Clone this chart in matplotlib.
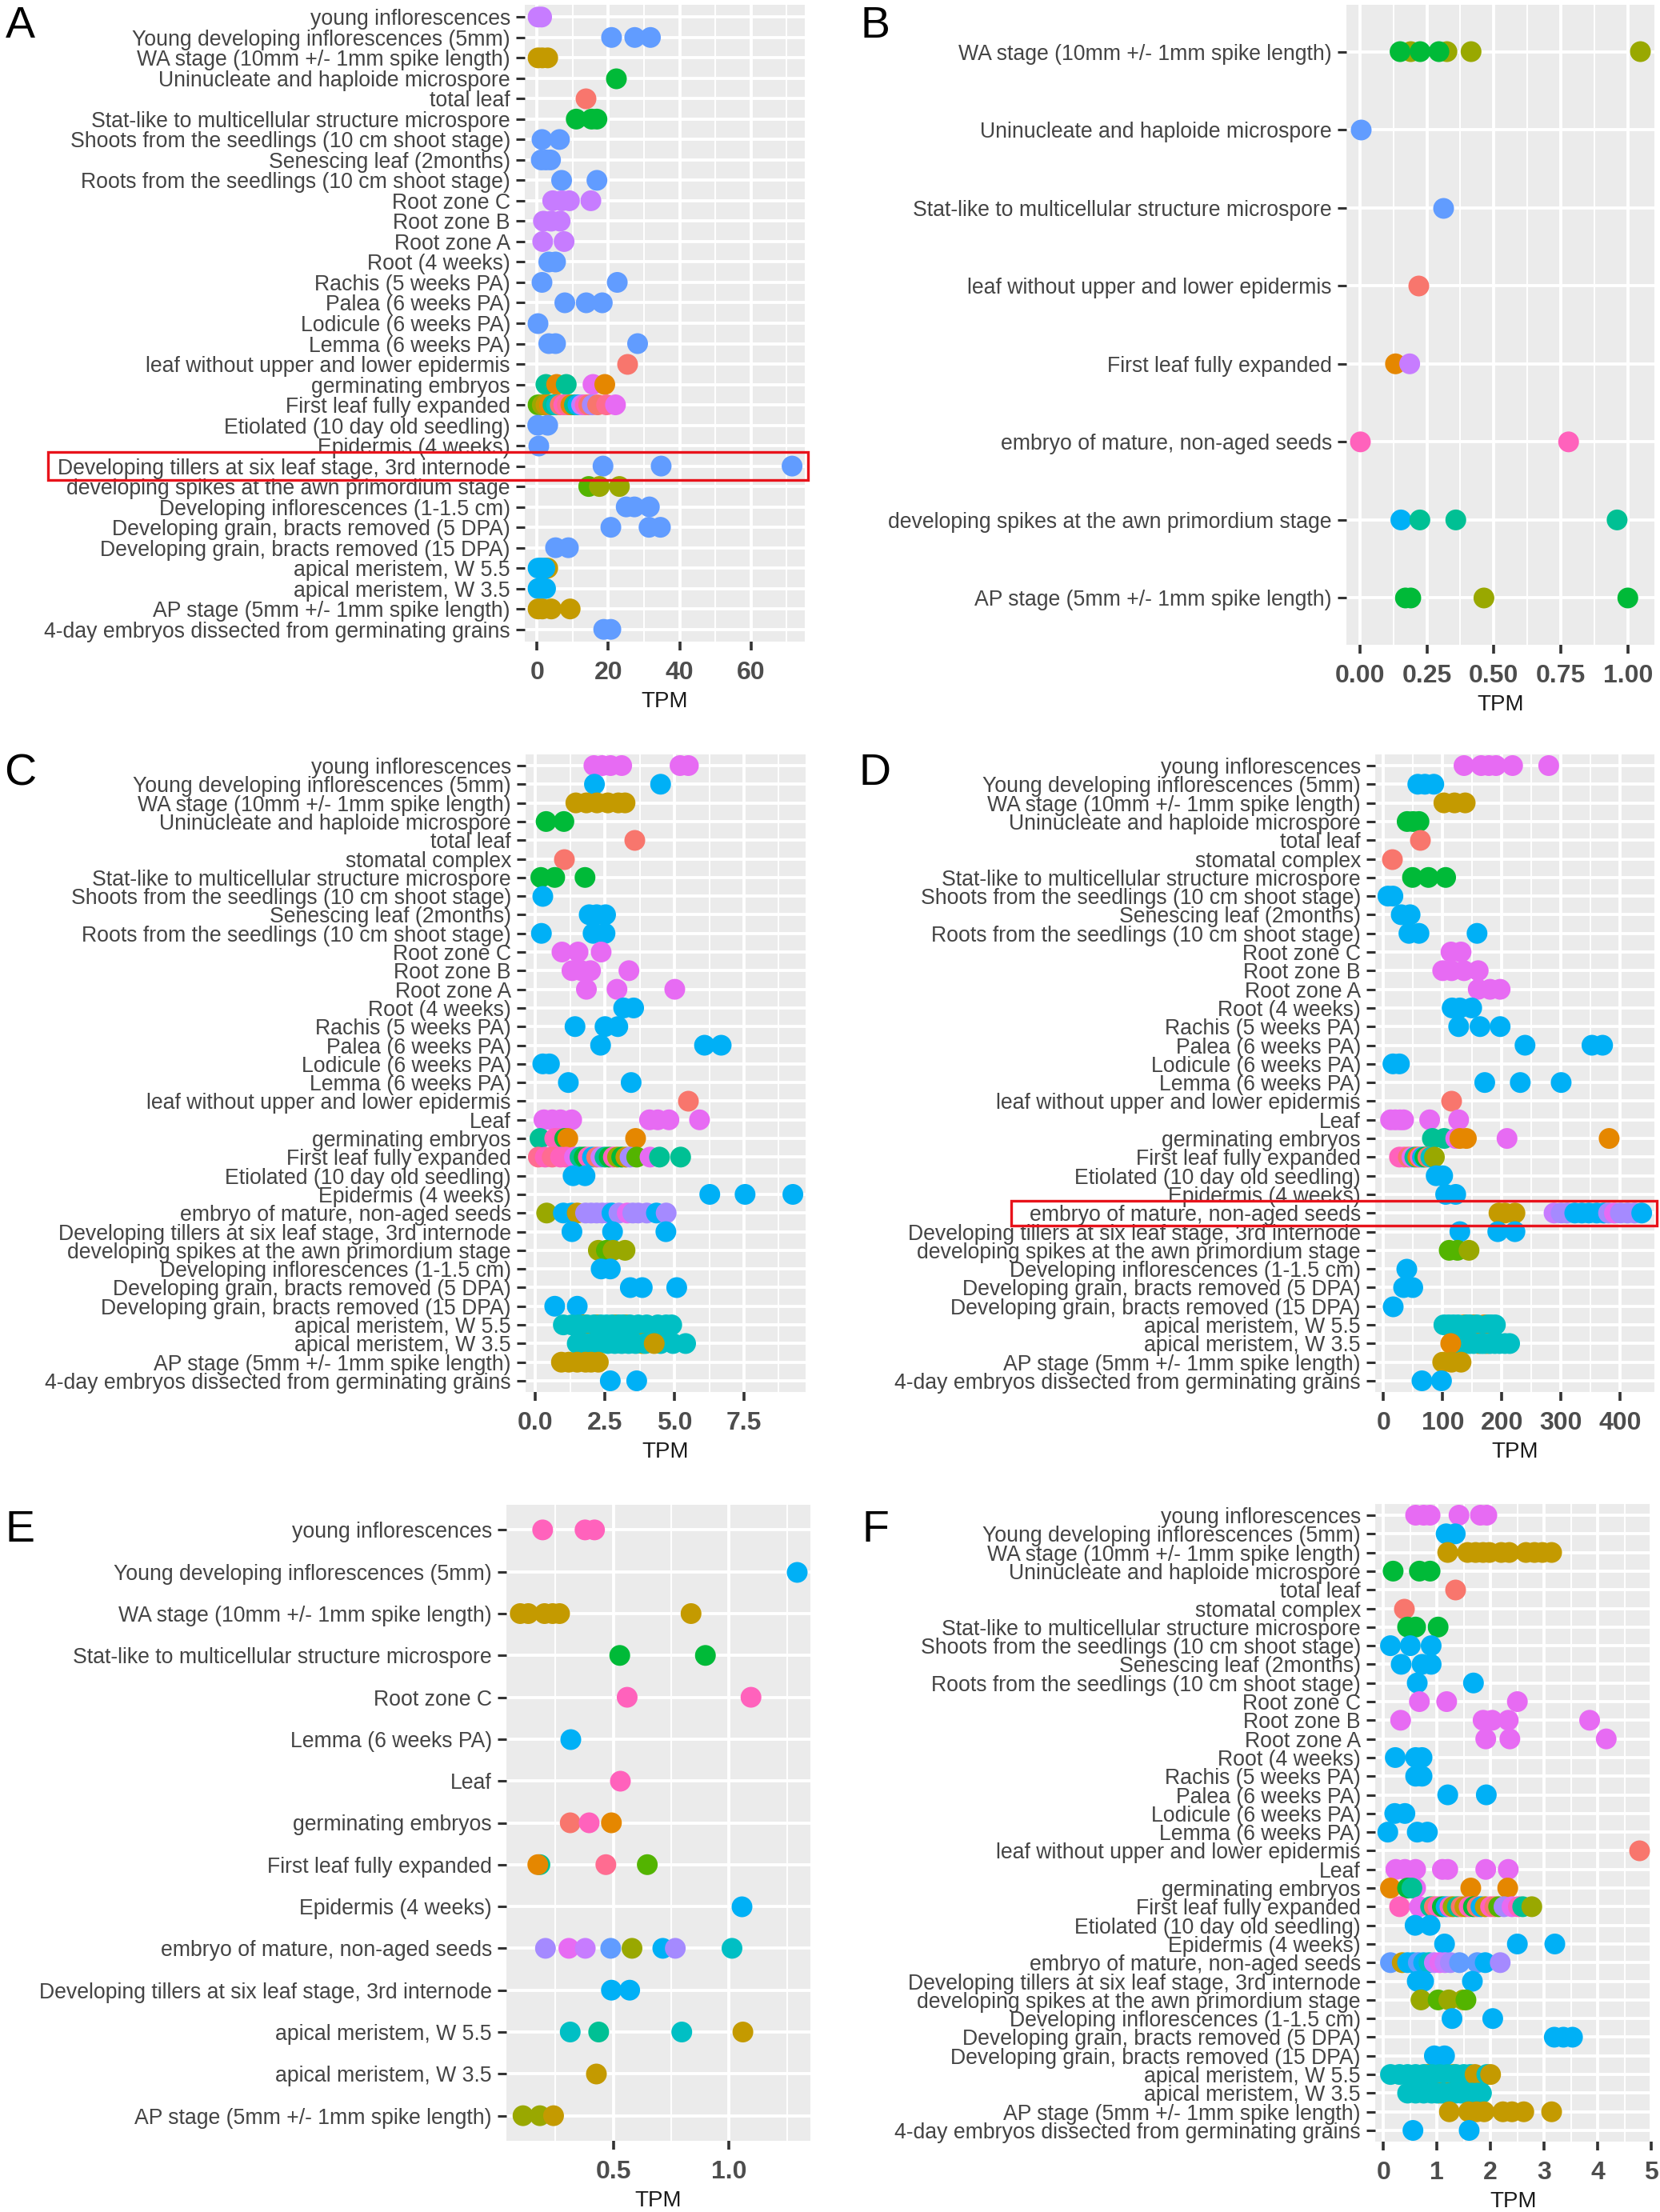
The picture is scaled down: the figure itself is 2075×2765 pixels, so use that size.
import matplotlib
matplotlib.use("Agg")
import matplotlib.pyplot as plt
from matplotlib.patches import Rectangle
from matplotlib.transforms import blended_transform_factory

plt.rcParams['font.family'] = ['Liberation Sans', 'DejaVu Sans']

# ---------------- colour groups ----------------
PAL = {
    'S': '#F8766D', 'O': '#E58700', 'G': '#C49A00', 'V': '#99A800',
    'L': '#53B400', 'N': '#00BA38', 'T': '#00C094', 'C': '#00BFC4',
    'Y': '#00B0F6', 'B': '#619CFF', 'U': '#A58AFF', 'P': '#C77CFF',
    'M': '#E76BF3', 'K': '#FF62BC', 'R': '#FF6C91',
}

# ---------------- Panel A ----------------
A_labels = [
    "young inflorescences", "Young developing inflorescences (5mm)",
    "WA stage (10mm +/- 1mm spike length)", "Uninucleate and haploide microspore",
    "total leaf", "Stat-like to multicellular structure microspore",
    "Shoots from the seedlings (10 cm shoot stage)", "Senescing leaf (2months)",
    "Roots from the seedlings (10 cm shoot stage)", "Root zone C", "Root zone B",
    "Root zone A", "Root (4 weeks)", "Rachis (5 weeks PA)", "Palea (6 weeks PA)",
    "Lodicule (6 weeks PA)", "Lemma (6 weeks PA)", "leaf without upper and lower epidermis",
    "germinating embryos", "First leaf fully expanded", "Etiolated (10 day old seedling)",
    "Epidermis (4 weeks)", "Developing tillers at six leaf stage, 3rd internode",
    "developing spikes at the awn primordium stage", "Developing inflorescences (1-1.5 cm)",
    "Developing grain, bracts removed (5 DPA)", "Developing grain, bracts removed (15 DPA)",
    "apical meristem, W 5.5", "apical meristem, W 3.5",
    "AP stage (5mm +/- 1mm spike length)", "4-day embryos dissected from germinating grains",
]
A_vals = [
    [0.3, 1.3], [20.9, 27.4, 31.8], [0.3, 1.5, 3.0], [22.1], [13.6], [11.0, 15.3, 16.8],
    [1.4, 6.3], [1.2, 2.5, 3.8], [6.9, 16.8], [4.4, 7.0, 9.1, 15.1], [1.8, 4.0, 6.5],
    [1.6, 7.6], [3.3, 5.2], [1.4, 22.5], [7.8, 13.8, 18.3], [0.15], [3.3, 5.2, 28.2],
    [25.2], [2.5, 5.5, 8.2, 15.7, 19.0],
    [0.3, 1.5, 2.5, 3.5, 4.5, 5.5, 6.5, 7.5, 8.5, 9.5, 10.5, 11.5, 12.5, 13.5, 14.5, 15.5, 17.0, 19.5, 22.0],
    [0.2, 3.0], [0.3], [18.5, 34.8, 71.5], [14.5, 17.5, 23.1], [25.0, 27.3, 31.5],
    [20.7, 31.4, 34.6], [5.2, 8.8], [3.0, 0.3, 1.2, 2.2], [0.3, 1.3, 2.4],
    [0.3, 1.5, 4.0, 9.3], [18.7, 20.7],
]
A_cols = [
    "PP", "BBB", "GGG", "N", "S", "NNN", "BB", "BBB", "BB", "PPPP", "PPP", "PP", "BB", "BB",
    "BBB", "B", "BBB", "S", "TOTMO", "LVGOTCSKROTYPKSUSRM", "BB", "B", "BBB", "LVV", "BBB",
    "BBB", "BB", "GYYY", "YYY", "GGGG", "BB",
]

# ---------------- Panel B ----------------
B_labels = [
    "WA stage (10mm +/- 1mm spike length)", "Uninucleate and haploide microspore",
    "Stat-like to multicellular structure microspore", "leaf without upper and lower epidermis",
    "First leaf fully expanded", "embryo of mature, non-aged seeds",
    "developing spikes at the awn primordium stage", "AP stage (5mm +/- 1mm spike length)",
]
B_vals = [
    [0.19, 0.325, 0.415, 1.047, 0.15, 0.225, 0.295], [0.002], [0.31], [0.219],
    [0.133, 0.186], [0.002, 0.779], [0.153, 0.224, 0.358, 0.96], [0.17, 0.19, 0.463, 1.0],
]
B_cols = ["VVVVNNN", "B", "B", "S", "OP", "KK", "YTTT", "NNVN"]

# ---------------- Panels C, D, F share categories ----------------
CDF_labels = [
    "young inflorescences", "Young developing inflorescences (5mm)",
    "WA stage (10mm +/- 1mm spike length)", "Uninucleate and haploide microspore",
    "total leaf", "stomatal complex", "Stat-like to multicellular structure microspore",
    "Shoots from the seedlings (10 cm shoot stage)", "Senescing leaf (2months)",
    "Roots from the seedlings (10 cm shoot stage)", "Root zone C", "Root zone B", "Root zone A",
    "Root (4 weeks)", "Rachis (5 weeks PA)", "Palea (6 weeks PA)", "Lodicule (6 weeks PA)",
    "Lemma (6 weeks PA)", "leaf without upper and lower epidermis", "Leaf",
    "germinating embryos", "First leaf fully expanded", "Etiolated (10 day old seedling)",
    "Epidermis (4 weeks)", "embryo of mature, non-aged seeds",
    "Developing tillers at six leaf stage, 3rd internode",
    "developing spikes at the awn primordium stage", "Developing inflorescences (1-1.5 cm)",
    "Developing grain, bracts removed (5 DPA)", "Developing grain, bracts removed (15 DPA)",
    "apical meristem, W 5.5", "apical meristem, W 3.5",
    "AP stage (5mm +/- 1mm spike length)", "4-day embryos dissected from germinating grains",
]

C_vals = [
    [2.1, 2.4, 2.7, 3.1, 5.2, 5.5], [2.12, 4.5], [1.45, 1.83, 2.21, 2.6, 2.98, 3.22],
    [0.38, 1.02], [3.55], [1.02], [0.19, 0.69, 1.78], [0.26], [1.93, 2.52, 2.2],
    [0.21, 2.07, 2.5], [0.95, 1.53, 2.36], [1.31, 1.65, 1.98, 3.36], [1.83, 2.93, 5.01],
    [3.17, 3.53], [1.42, 2.5, 2.96], [2.34, 6.08, 6.68], [0.26, 0.5], [1.18, 3.44], [5.5],
    [0.3, 0.6, 0.9, 1.3, 4.1, 4.4, 4.8, 5.9],
    [0.16, 0.69, 0.85, 1.05, 1.16, 3.6],
    [0.1, 0.35, 0.6, 0.9, 1.1, 1.4, 1.6, 1.75, 1.9, 2.05, 2.2, 2.35, 2.5, 2.65, 2.8, 2.95,
     3.1, 3.25, 3.4, 3.64, 4.12, 4.46, 5.22],
    [1.35, 1.78], [6.27, 7.54, 9.26],
    [0.4, 1.0, 1.3, 1.5, 1.8, 2.0, 2.2, 2.4, 2.6, 2.75, 3.0, 3.3, 3.5, 3.7, 4.0, 4.35, 4.7],
    [1.31, 2.77, 4.69], [2.26, 2.55, 2.79, 3.22], [2.36, 2.69], [3.41, 3.84, 5.08], [0.69, 1.5],
    [1.74, 2.21, 2.88, 3.26, 1.0, 1.3, 1.55, 1.85, 2.1, 2.35, 2.55, 2.75, 3.0, 3.15, 3.4,
     3.7, 4.0, 4.4, 4.7, 4.9],
    [1.88, 3.84, 1.5, 1.75, 2.0, 2.3, 2.6, 2.85, 3.1, 3.35, 3.6, 3.95, 4.5, 4.95, 5.4, 4.27],
    [0.93, 1.2, 1.5, 1.8, 2.0, 2.26], [2.69, 3.64],
]
C_cols = [
    "MMMMMM", "YY", "GGGGGG", "NN", "S", "S", "NNN", "Y", "YYY", "YYY", "MMM", "MMMM", "MMM",
    "YY", "YYY", "YYY", "YY", "YY", "S", "MMMMMMMM", "TKKNOO",
    "RKRKKMTNKYSPTNKVNGULMTT", "YY", "YYY", "VYYGUUUUUYUMUUUYU", "YYY", "VLVV", "YY", "YYY",
    "YY", "GGGGCCCCCCCCCCCCCCCC", "GGCCCCCCCCCCCCCG", "GGGGGG", "YY",
]

D_vals = [
    [136, 165, 178, 190, 218, 279], [58, 70, 85], [102, 120, 138], [40, 50, 60], [62], [14],
    [49, 76, 105], [7.5, 16], [30, 45], [43, 60, 158], [114, 131], [100, 115, 136, 160],
    [160, 180, 197], [116, 129, 149], [127, 163, 197], [239, 352, 370], [16, 27],
    [171, 231, 300], [114], [12, 20, 28, 34, 78, 127],
    [82.6, 102.5, 122, 129, 140, 208.6, 381],
    [27, 35, 42, 48, 53, 58, 62, 66, 70, 75, 80, 86],
    [89, 100], [105, 122],
    [195, 205, 222, 288, 300, 310, 323, 335, 347, 360, 372, 380, 390, 400, 412, 424, 436],
    [129, 193, 222], [111, 125, 144.5], [38.5], [34, 49.5], [16],
    [136, 152, 170, 102, 110, 118, 126, 140, 146, 158, 176, 182, 189],
    [160, 175, 128, 137, 145, 152, 165, 170, 180, 188, 196, 205, 213, 113.6],
    [100, 115, 131], [65, 98],
]
D_cols = [
    "MMMMMM", "YYY", "GGG", "NNN", "S", "S", "NNN", "YY", "YY", "YYY", "MM", "MMMM", "MMM",
    "YYY", "YYY", "YYY", "YY", "YYY", "S", "MMMMMM", "TTMOOMO", "KKSMTOKYNSCV", "YY", "YY",
    "GGGPUUYYYYYUMUUUY", "YYY", "LLV", "Y", "YY", "Y", "OOOCCCCCCCCCC", "OOCCCCCCCCCCCO",
    "GGG", "YY",
]

F_vals = [
    [0.6, 0.75, 0.87, 1.41, 1.81, 1.93], [1.17, 1.34],
    [1.2, 1.57, 1.72, 1.86, 1.98, 2.2, 2.35, 2.66, 2.82, 2.97, 3.14],
    [0.18, 0.67, 0.87], [1.34], [0.39], [0.45, 0.6, 1.02], [0.13, 0.5, 0.89],
    [0.33, 0.72, 0.89], [0.63, 1.68], [0.67, 1.18, 2.5], [0.32, 1.86, 2.03, 2.33, 3.85],
    [1.91, 2.36, 4.16], [0.22, 0.6, 0.72], [0.6, 0.72], [1.2, 1.92], [0.21, 0.4],
    [0.08, 0.63, 0.82], [4.78], [0.23, 0.4, 0.6, 1.1, 1.2, 1.91, 2.33],
    [0.6, 0.13, 0.45, 0.53, 1.63, 2.32],
    [0.3, 0.67, 0.88, 0.95, 1.02, 1.1, 1.17, 1.24, 1.3, 1.38, 1.45, 1.52, 1.6, 1.68, 1.75,
     1.82, 1.9, 2.0, 2.08, 2.15, 2.25, 2.4, 2.52, 2.6, 2.77],
    [0.59, 0.87], [1.14, 2.5, 3.2],
    [0.13, 0.35, 0.45, 0.55, 0.65, 0.75, 0.85, 0.95, 1.05, 1.15, 1.25, 1.42, 1.75, 1.9, 2.18],
    [0.63, 0.75, 1.66], [0.7, 1.02, 1.22, 1.49, 1.54], [1.28, 2.04], [3.19, 3.36, 3.53],
    [0.95, 1.14],
    [0.82, 1.3, 0.13, 0.3, 0.45, 0.6, 0.75, 0.9, 1.05, 1.2, 1.35, 1.5, 1.62, 1.71, 1.93, 2.0],
    [1.05, 1.2, 0.45, 0.6, 0.75, 0.9, 1.0, 1.1, 1.25, 1.35, 1.45, 1.55, 1.65, 1.75, 1.83],
    [1.23, 1.59, 1.74, 1.88, 2.23, 2.4, 2.62, 3.14], [0.55, 1.6],
]
F_cols = [
    "MMMMMM", "YY", "GGGGGGGGGGG", "NNN", "S", "S", "NNN", "YYY", "YYY", "YY", "MMM", "MMMMM",
    "MMM", "YYY", "YY", "YY", "YY", "YYY", "S", "MMMMMMM", "MONTOO",
    "KMTSKNYKVTSGKNSYGKSLUMKTV", "YY", "YYY", "BGYYBYCPMPUBBYU", "YYY", "VLVVL", "YY", "YYY",
    "YY", "GGCCCCCCCCCCCGCG", "GGCCCCCCCCCCCCC", "GGGGGGGG", "YY",
]

# ---------------- Panel E ----------------
E_labels = [
    "young inflorescences", "Young developing inflorescences (5mm)",
    "WA stage (10mm +/- 1mm spike length)", "Stat-like to multicellular structure microspore",
    "Root zone C", "Lemma (6 weeks PA)", "Leaf", "germinating embryos",
    "First leaf fully expanded", "Epidermis (4 weeks)", "embryo of mature, non-aged seeds",
    "Developing tillers at six leaf stage, 3rd internode", "apical meristem, W 5.5",
    "apical meristem, W 3.5", "AP stage (5mm +/- 1mm spike length)",
]
E_vals = [
    [0.195, 0.378, 0.419], [1.292], [0.098, 0.133, 0.203, 0.238, 0.268, 0.836],
    [0.528, 0.898], [0.56, 1.095], [0.314], [0.528], [0.314, 0.396, 0.492],
    [0.183, 0.174, 0.468, 0.647], [1.053],
    [0.207, 0.308, 0.379, 0.489, 0.581, 0.714, 0.768, 1.013], [0.492, 0.571],
    [0.314, 0.437, 0.796, 1.06], [0.425], [0.11, 0.183, 0.242],
]
E_cols = [
    "KKK", "Y", "GGGGGG", "NN", "KK", "Y", "K", "SKO", "TORL", "Y", "UMPBVYUC", "YY",
    "CTCG", "G", "VVG",
]

# ---------------- axis breaks ----------------
A_major = [0, 20, 40, 60]; A_minor = [10, 30, 50, 70]
B_major = [0, 0.25, 0.5, 0.75, 1.0]; B_minor = [0.125, 0.375, 0.625, 0.875]
C_major = [0, 2.5, 5.0, 7.5]; C_minor = [1.25, 3.75, 6.25, 8.75]
D_major = [0, 100, 200, 300, 400]; D_minor = [50, 150, 250, 350]
E_major = [0.5, 1.0]; E_minor = [0.25, 0.75, 1.25]
F_major = [0, 1, 2, 3, 4, 5]; F_minor = [0.5, 1.5, 2.5, 3.5, 4.5]
A_ticklbl = ["0", "20", "40", "60"]
B_ticklbl = ["0.00", "0.25", "0.50", "0.75", "1.00"]
C_ticklbl = ["0.0", "2.5", "5.0", "7.5"]
D_ticklbl = ["0", "100", "200", "300", "400"]
E_ticklbl = ["0.5", "1.0"]
F_ticklbl = ["0", "1", "2", "3", "4", "5"]

# ---------------- drawing ----------------
W, H = 2075, 2765
fig = plt.figure(figsize=(W / 100, H / 100), dpi=100)


def add_axes_px(x0, y0, x1, y1):
    return fig.add_axes([x0 / W, 1 - y1 / H, (x1 - x0) / W, (y1 - y0) / H])


def draw_panel(ax, labels, vals, cols, major, major_lbl, minor):
    n = len(labels)
    ys = list(range(n, 0, -1))
    allv = []
    for y, v, c in zip(ys, vals, cols):
        ax.scatter(v, [y] * len(v), s=350, c=[PAL[k] for k in c], linewidths=0, zorder=3)
        allv += v
    lo, hi = min(allv), max(allv)
    pad = 0.05 * (hi - lo)
    ax.set_xlim(lo - pad, hi + pad)
    ax.set_ylim(0.4, n + 0.6)
    ax.set_facecolor('#EBEBEB')
    for s in ax.spines.values():
        s.set_visible(False)
    ax.set_yticks(ys)
    ax.set_yticklabels(labels, fontsize=19.2, color='#444444')
    ax.set_xticks(major)
    ax.set_xticklabels(major_lbl, fontsize=23, fontweight='bold', color='#4D4D4D')
    ax.set_xticks(minor, minor=True)
    ax.set_axisbelow(True)
    ax.grid(which='major', axis='both', color='white', linewidth=2.8)
    ax.grid(which='minor', axis='x', color='white', linewidth=1.4)
    ax.tick_params(which='major', axis='y', length=8, width=2.2, color='#333333', pad=5)
    ax.tick_params(which='major', axis='x', length=8, width=2.6, color='#333333', pad=9)
    ax.tick_params(which='minor', length=0)
    ax.set_xlabel('TPM', fontsize=20, color='#1A1A1A', labelpad=6)
    return ys


axA = add_axes_px(656, 6, 1006, 802)
ysA = draw_panel(axA, A_labels, A_vals, A_cols, A_major, A_ticklbl, A_minor)
axB = add_axes_px(1683, 6, 2068, 806)
draw_panel(axB, B_labels, B_vals, B_cols, B_major, B_ticklbl, B_minor)
axC = add_axes_px(657, 943, 1007, 1740)
draw_panel(axC, CDF_labels, C_vals, C_cols, C_major, C_ticklbl, C_minor)
axD = add_axes_px(1719, 943, 2068, 1740)
ysD = draw_panel(axD, CDF_labels, D_vals, D_cols, D_major, D_ticklbl, D_minor)
axE = add_axes_px(633, 1881, 1013, 2676)
draw_panel(axE, E_labels, E_vals, E_cols, E_major, E_ticklbl, E_minor)
axF = add_axes_px(1719, 1880, 2065, 2677)
draw_panel(axF, CDF_labels, F_vals, F_cols, F_major, F_ticklbl, F_minor)

# red highlight boxes
iA = A_labels.index("Developing tillers at six leaf stage, 3rd internode")
trA = blended_transform_factory(fig.transFigure, axA.transData)
axA.add_artist(Rectangle((60 / W, ysA[iA] - 0.70), (1010 - 60) / W, 1.40, transform=trA,
                         fill=False, edgecolor='#E8131B', linewidth=2.4, clip_on=False, zorder=10))
iD = CDF_labels.index("embryo of mature, non-aged seeds")
trD = blended_transform_factory(fig.transFigure, axD.transData)
axD.add_artist(Rectangle((1264 / W, ysD[iD] - 0.67), (2071 - 1264) / W, 1.34, transform=trD,
                         fill=False, edgecolor='#E8131B', linewidth=2.4, clip_on=False, zorder=10))

# panel letters
for letter, (px, py) in zip("ABCDEF", [(25, 33), (1094, 33), (25, 967), (1094, 967),
                                       (25, 1913), (1094, 1913)]):
    fig.text(px / W, 1 - py / H, letter, fontsize=40, ha='center', va='center', color='black')

fig.savefig('out.png', dpi=100)
